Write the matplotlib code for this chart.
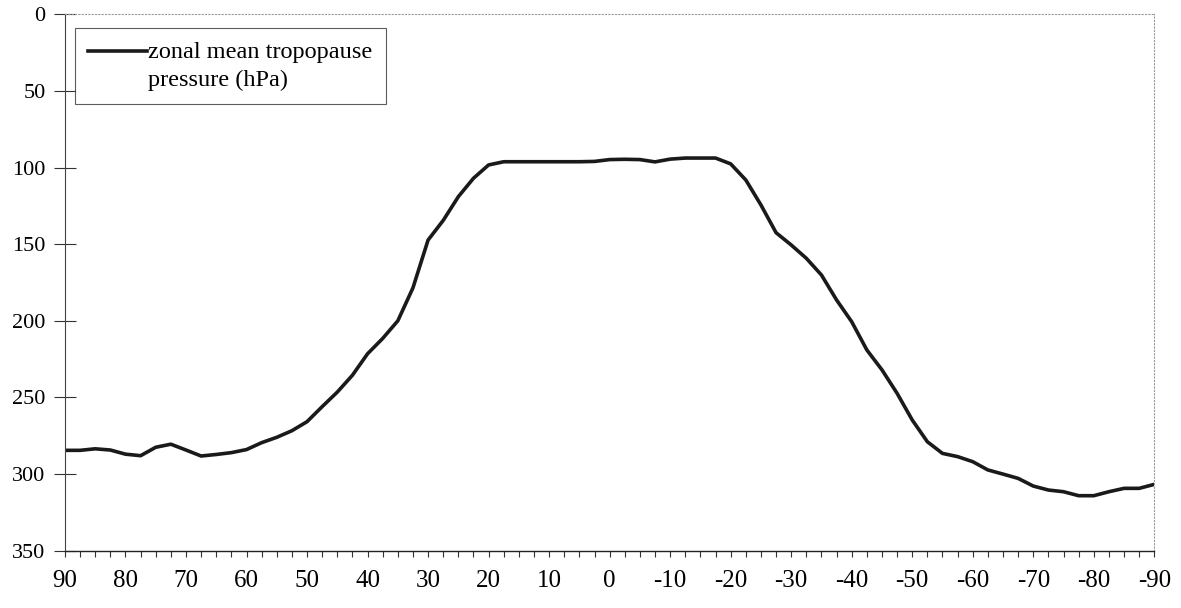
import matplotlib
matplotlib.use("Agg")
import matplotlib.pyplot as plt
import numpy as np
from matplotlib.ticker import MultipleLocator
from matplotlib.legend_handler import HandlerLine2D

plt.rcParams['font.family'] = ['Liberation Serif', 'DejaVu Serif']
plt.rcParams['axes.unicode_minus'] = False

# latitude every 2.5 degrees, north pole to south pole
latitude = np.arange(90, -90.1, -2.5)
pressure = [
    284.5, 284.5, 283.5, 284.3, 287.0, 288.0, 282.5, 280.5, 284.3, 288.2,
    287.2, 286.0, 284.0, 279.5, 276.0, 271.7, 265.8, 256.0, 246.5, 235.5,
    221.5, 211.5, 200.0, 178.5, 147.3, 134.5, 119.0, 107.0, 98.3, 96.2,
    96.2, 96.2, 96.2, 96.2, 96.2, 96.0, 94.8, 94.6, 94.8, 96.3,
    94.5, 93.8, 93.8, 93.8, 97.6, 108.1, 124.4, 142.5, 150.5, 159.2,
    170.1, 186.4, 200.6, 219.0, 232.0, 247.3, 264.7, 278.9, 286.5, 288.6,
    291.9, 297.3, 300.0, 302.8, 307.8, 310.4, 311.5, 314.1, 314.1, 311.5,
    309.3, 309.3, 306.7,
]
xticks = list(range(90, -91, -10))
yticks = list(range(0, 351, 50))
label = 'zonal mean tropopause\npressure (hPa)'


class RaisedLine(HandlerLine2D):
    # put the legend line level with the first text line
    def __init__(self, shift, **kw):
        super().__init__(**kw)
        self.shift = shift

    def create_artists(self, legend, orig_handle, xdescent, ydescent, width,
                       height, fontsize, trans):
        arts = super().create_artists(legend, orig_handle, xdescent, ydescent,
                                      width, height, fontsize, trans)
        for a in arts:
            a.set_ydata(np.asarray(a.get_ydata()) + self.shift)
        return arts


fig = plt.figure(figsize=(11.81, 6.08), dpi=100)
ax = fig.add_axes([0.055, 0.0942, 0.9224, 0.8823])

line, = ax.plot(latitude, pressure, color='#1a1a1a', linewidth=2.6, label=label,
                solid_joinstyle='round')

ax.set_xlim(90, -90)
ax.set_ylim(350, 0)
ax.set_xticks(xticks)
ax.set_xticklabels([str(t) for t in xticks])
ax.xaxis.set_minor_locator(MultipleLocator(2.5))
ax.set_yticks(yticks)
ax.set_yticklabels([str(t) for t in yticks])

ax.tick_params(axis='x', which='both', direction='out', length=4, width=0.8,
               color='#333333', labelsize=18, pad=10)
ax.tick_params(axis='y', direction='inout', length=16, width=0.8,
               color='#333333', labelsize=16, pad=6)

for side in ['top', 'right']:
    ax.spines[side].set_linestyle((0, (1, 2)))
    ax.spines[side].set_color('#999999')
    ax.spines[side].set_linewidth(0.8)
ax.spines['left'].set_color('#444444')
ax.spines['left'].set_linewidth(0.8)
ax.spines['bottom'].set_color('#222222')
ax.spines['bottom'].set_linewidth(1.0)

leg = ax.legend(loc='upper left', bbox_to_anchor=(0.0092, 0.974),
                borderaxespad=0, fancybox=False, frameon=True, fontsize=17.5,
                handlelength=2.4, handletextpad=0.05, borderpad=0.55,
                handler_map={line: RaisedLine(shift=11)})
leg.get_texts()[0].set_linespacing(1.45)
leg.get_frame().set_edgecolor('#333333')
leg.get_frame().set_linewidth(0.8)

fig.savefig('out.png', dpi=100)
